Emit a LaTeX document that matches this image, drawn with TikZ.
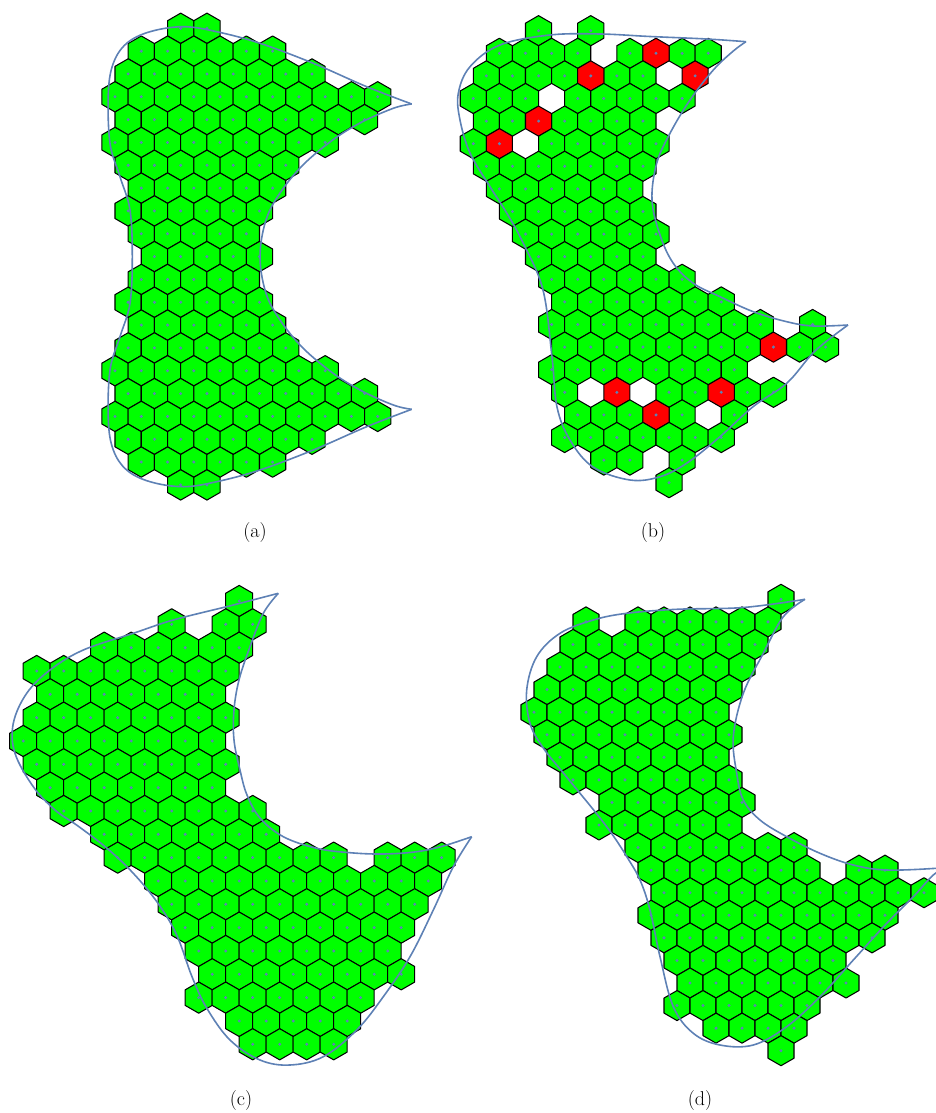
\documentclass[tikz,border=0pt]{standalone}
\usepackage{fontspec}
\definecolor{mblue}{rgb}{0.368,0.507,0.710}
\definecolor{hgreen}{rgb}{0,1,0}
\definecolor{hred}{rgb}{1,0,0}
\tikzset{
  hexcell/.style={draw=black, line width=1.05pt, line join=round, fill=hgreen},
  hexred/.style={hexcell, fill=hred},
  cdot/.style={fill=mblue},
  bound/.style={draw=mblue, line width=1.6pt, line join=round},
  caplabel/.style={font=\fontsize{20}{24}\selectfont, inner sep=0pt}
}
\newcommand\hexpath[4]{%
  \path[#4] (#1,#2) +(90:#3) -- +(30:#3) -- +(-30:#3) -- +(-90:#3) -- +(-150:#3) -- +(150:#3) -- cycle;
  \fill[cdot] (#1,#2) circle (1.65);}
\newcommand\hexrow[8]{%
  \foreach \jj in {#7}{\hexpath{#1+#2*\jj}{#3+#4*#6}{#5}{#8}}}
\newcommand\rowA[2]{\hexrow{115}{13.135}{28.3}{22.83}{15.17}{#1}{#2}{hexcell}}
\newcommand\rowB[2]{\hexrow{473.3}{13.05}{30.7}{22.6}{15.07}{#1}{#2}{hexcell}}
\newcommand\redB[2]{\hexrow{473.3}{13.05}{30.7}{22.6}{15.07}{#1}{#2}{hexred}}
\newcommand\rowC[2]{\hexrow{36.7}{13.5}{601}{23.33}{15.59}{#1}{#2}{hexcell}}
\newcommand\rowD[2]{\hexrow{534}{13.0}{599.3}{22.57}{15.01}{#1}{#2}{hexcell}}
\begin{document}
\begin{tikzpicture}[x=1pt,y=-1pt]
\useasboundingbox (0,0) rectangle (936,1113);
\begin{scope}
\clip (0,0) rectangle (936,1113);
% ---------- panel (a)
\rowA{0}{5,7}
\rowA{1}{2,4,...,12}
\rowA{2}{1,3,...,15}
\rowA{3}{0,2,...,20}
\rowA{4}{1,3,...,19}
\rowA{5}{0,2,...,16}
\rowA{6}{1,3,...,13}
\rowA{7}{2,4,...,12}
\rowA{8}{1,3,...,11}
\rowA{9}{2,4,...,10}
\rowA{10}{3,5,...,11}
\rowA{11}{2,4,...,10}
\rowA{12}{1,3,...,11}
\rowA{13}{2,4,...,12}
\rowA{14}{1,3,...,13}
\rowA{15}{0,2,...,16}
\rowA{16}{1,3,...,19}
\rowA{17}{0,2,...,20}
\rowA{18}{1,3,...,15}
\rowA{19}{2,4,...,12}
\rowA{20}{5,7}
\draw[bound] plot[smooth, tension=0.6] coordinates {(411.7,104) (366.7,86.7) (313.3,63.3) (260,43.3) (216.7,31.7) (183.3,26.7) (150,31.7) (126.7,43.3) (113.3,63.3) (108.3,93.3) (110,143.3) (120,176.7) (130,210) (132.3,256.7) (130,303.3) (120,336.7) (110,370) (108.3,420) (113.3,450) (126.7,470) (150,481.7) (183.3,486.7) (216.7,481.7) (260,470) (313.3,450) (366.7,426.7) (411.7,409.3)};
\draw[bound] plot[smooth, tension=0.6] coordinates {(411.7,409.3) (393.3,405) (360,390) (330,371) (300,345) (276.7,315) (265,290) (260,256.7) (265,223.3) (276.7,198) (300,168) (330,142) (360,123) (393.3,108.3) (411.7,104)};
% ---------- panel (b)
\rowB{0}{5,9}
\rowB{1}{2,4,6,8,12,16,18}
\redB{1}{14}
\rowB{2}{1,3,5,7,11,13}
\redB{2}{9,17}
\rowB{3}{0,2,4,8,10,12,14,16}
\rowB{4}{1,3,7,9,11,13}
\redB{4}{5}
\rowB{5}{0,6,8,10,12,14}
\redB{5}{2}
\rowB{6}{1,3,...,13}
\rowB{7}{2,4,...,12}
\rowB{8}{3,5,...,13}
\rowB{9}{4,6,...,14}
\rowB{10}{5,7,...,13}
\rowB{11}{6,8,...,16}
\rowB{12}{7,9,...,19}
\rowB{13}{6,8,...,22,26}
\rowB{14}{7,9,...,21,25,27}
\redB{14}{23}
\rowB{15}{6,8,...,20}
\rowB{16}{7,15,17,21,23}
\redB{16}{11,19}
\rowB{17}{8,10,12,16,20}
\redB{17}{14}
\rowB{18}{7,9,...,19}
\rowB{19}{10,12,16}
\rowB{20}{15}
\draw[bound] plot[smooth, tension=0.6] coordinates {(746,41.7) (706.7,39) (650,36.5) (600,34) (550,35) (500,45) (470,66.7) (458.3,93.3) (460,120) (470,153) (490,186.7) (506.7,213) (523.3,243.3) (543,290) (552,357) (557,407) (570,440) (593,467) (630,480) (660,476.7) (687,463) (720,436.7) (753,406.7) (787,383) (815,351) (848,325)};
\draw[bound] plot[smooth, tension=0.6] coordinates {(848,325) (813.3,326) (786.7,321.7) (753.3,311.7) (720,296.7) (693.3,283.3) (673.3,263.3) (660,235) (652,200) (656.7,163.3) (670,133.3) (690,100) (713.3,70) (733.3,51) (746,41.7)};
% ---------- panel (c)
\rowC{0}{15}
\rowC{1}{10,14,16}
\rowC{2}{5,7,...,15}
\rowC{3}{0,2,...,14}
\rowC{4}{1,3,...,13}
\rowC{5}{0,2,...,14}
\rowC{6}{-1,1,...,13}
\rowC{7}{0,2,...,14}
\rowC{8}{1,3,...,13}
\rowC{9}{2,4,...,16}
\rowC{10}{5,7,...,17}
\rowC{11}{6,8,...,22,26,28,30}
\rowC{12}{9,11,...,29}
\rowC{13}{10,12,...,28}
\rowC{14}{11,13,...,27}
\rowC{15}{12,14,...,26}
\rowC{16}{13,15,...,27}
\rowC{17}{12,14,...,24}
\rowC{18}{15,17,...,23}
\rowC{19}{16,18,...,22}
\draw[bound] plot[smooth, tension=0.6] coordinates {(278.3,593.3) (233.3,605) (173.3,620) (133.3,633.3) (83.3,650) (50,670) (26.7,693.3) (13.3,723.3) (15,753.3) (33.3,786.7) (55,810) (78,826) (106.7,848) (133.3,873.3) (158,903.3) (176.7,935) (192,976.7) (206.7,1008) (230,1040) (260,1060) (290,1065) (323.3,1056.7) (356.7,1030) (383.3,996.7) (410,956.7) (433.3,910) (453.3,866.7) (471.7,836.7)};
\draw[bound] plot[smooth, tension=0.6] coordinates {(471.7,836.7) (443.3,846) (416.7,851.7) (383.3,854) (350,852.7) (316.7,848.3) (283.3,836.7) (260,818) (247,795) (240,770) (234,740) (234,710) (239,680) (250,646.7) (263.3,613.3) (278.3,593.3)};
% ---------- panel (d)
\rowD{0}{19}
\rowD{1}{4,8,10,...,18}
\rowD{2}{3,5,...,17}
\rowD{3}{2,4,...,16}
\rowD{4}{1,3,...,15}
\rowD{5}{0,2,...,14}
\rowD{6}{1,3,...,15}
\rowD{7}{2,4,...,14}
\rowD{8}{3,5,...,15}
\rowD{9}{6,8,...,16}
\rowD{10}{5,7,...,15}
\rowD{11}{8,10,...,20}
\rowD{12}{9,11,...,21,25,27}
\rowD{13}{10,12,...,30}
\rowD{14}{9,11,...,27}
\rowD{15}{10,12,...,26}
\rowD{16}{11,13,...,23}
\rowD{17}{12,14,...,24}
\rowD{18}{11,13,...,21}
\rowD{19}{14,16,...,20}
\rowD{20}{19}
\draw[bound] plot[smooth, tension=0.6] coordinates {(805,599.3) (743.3,607.5) (676.7,609.3) (626.7,613.3) (593.3,620) (560,633.3) (536.7,656.7) (526.7,690) (530,723.3) (543.3,748) (565,775) (595,811.7) (612,834) (627,857) (640,880) (650,910) (660,956.7) (673.3,1006.7) (693.3,1033.3) (720,1045) (753.3,1045) (786.7,1026.7) (820,996.7) (853.3,960) (886.7,923.3) (913.3,896.7) (933.3,875) (948,866)};
\draw[bound] plot[smooth, tension=0.6] coordinates {(948,866) (936,868.3) (886.7,870) (853.3,865) (820,853.3) (786.7,836.7) (760,820) (743.3,800) (736.7,773.3) (733.3,736.7) (743.3,693.3) (763.3,653.3) (783.3,616.7) (805,599.3)};
\end{scope}
% ---------- captions
\node[caplabel] (la) at (255,533) {(a)};
\node[caplabel] (lb) at (653,533) {(b)};
\node[caplabel] (lc) at (241,1100) {(c)};
\node[caplabel] (ld) at (700,1100) {(d)};
\end{tikzpicture}
\end{document}
